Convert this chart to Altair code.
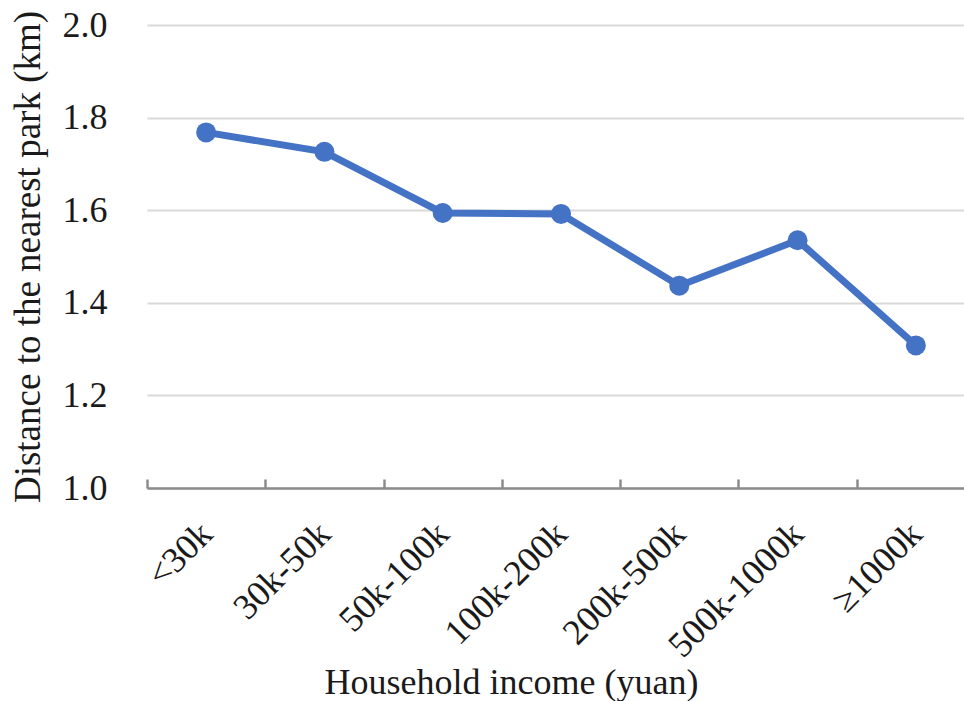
import altair as alt
import pandas as pd

categories = ["<30k", "30k-50k", "50k-100k", "100k-200k", "200k-500k", "500k-1000k", "≥1000k"]
distance_km = [1.768, 1.726, 1.594, 1.592, 1.437, 1.535, 1.308]

df = pd.DataFrame({"income": categories, "distance": distance_km})

FONT = "Liberation Serif"
BLUE = "#4472C4"
TEXT = "#1a1a1a"

x_scale = alt.Scale(domain=categories, range=[0, 828], paddingInner=0, paddingOuter=0)
y_scale = alt.Scale(domain=[1.0, 2.0], nice=False, zero=False)

x_main = alt.X(
    "income:N",
    sort=categories,
    scale=x_scale,
    axis=alt.Axis(
        orient="bottom",
        title="Household income (yuan)",
        titleFont=FONT, titleFontSize=36, titleFontWeight="normal", titleColor=TEXT,
        titleX=364, titleY=205, titleBaseline="alphabetic", titleAlign="center", titleAnchor="start",
        labelFont=FONT, labelFontSize=36, labelColor=TEXT,
        labelAngle=-45, labelAlign="right", labelBaseline="middle", labelPadding=40,
        ticks=False, domain=True, domainColor="#8c8c8c", domainWidth=2.5,
        grid=False, tickBand="extent",
    ),
)

y_enc = alt.Y(
    "distance:Q",
    scale=y_scale,
    axis=alt.Axis(
        title="Distance to the nearest park (km)",
        titleFont=FONT, titleFontSize=37, titleFontWeight="normal", titleColor=TEXT,
        titlePadding=15,
        labelFont=FONT, labelFontSize=36, labelColor=TEXT, labelPadding=40,
        values=[1.0, 1.2, 1.4, 1.6, 1.8, 2.0], format=".1f",
        ticks=False, domain=False,
        grid=True, gridColor="#d9d9d9", gridWidth=2,
    ),
)

line = alt.Chart(df).mark_line(color=BLUE, strokeWidth=7).encode(x=x_main, y=y_enc)

points = alt.Chart(df).mark_circle(color=BLUE, opacity=1, size=400).encode(
    x=alt.X("income:N", sort=categories, scale=x_scale, axis=None),
    y=alt.Y("distance:Q", scale=y_scale),
)

tick_layer = alt.Chart(df).mark_point(opacity=0).encode(
    x=alt.X(
        "income:N",
        sort=categories,
        scale=x_scale,
        axis=alt.Axis(
            orient="bottom",
            title=None, labels=False, domain=False, grid=False,
            ticks=True, tickSize=9, tickColor="#8c8c8c", tickWidth=2.5,
            tickBand="extent", offset=-9,
        ),
    ),
    y=alt.Y("distance:Q", scale=y_scale),
)

chart = (
    alt.layer(line, points, tick_layer)
    .resolve_axis(x="independent")
    .properties(
        width=817,
        height=463,
        autosize=alt.AutoSizeParams(type="none"),
        padding={"left": 147, "top": 25, "right": 0, "bottom": 213},
        background="white",
    )
    .configure_view(stroke=None)
)

chart.save("out.html", embed_options={"renderer": "svg", "actions": False})
